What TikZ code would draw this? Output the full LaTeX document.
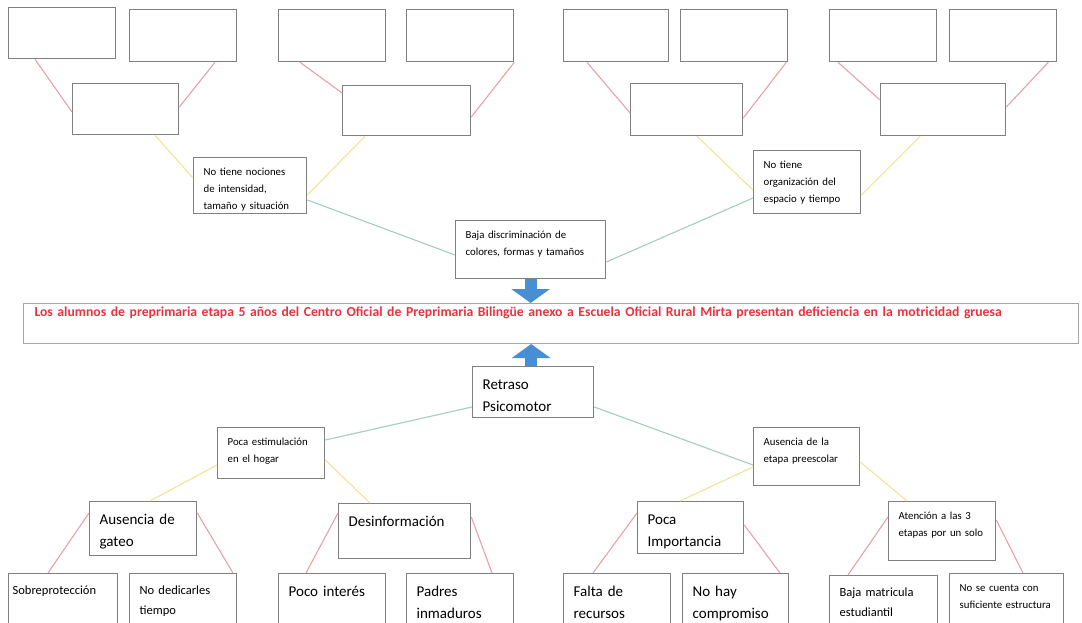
\documentclass[tikz,border=0pt]{standalone}
\usepackage{fontspec}
\setmainfont{Carlito}
\usetikzlibrary{arrows.meta}
\definecolor{boxgray}{RGB}{128,128,128}
\definecolor{linkpink}{RGB}{232,160,170}
\definecolor{linkyellow}{RGB}{240,228,150}
\definecolor{linkgreen}{RGB}{160,208,185}
\definecolor{arrowblue}{RGB}{72,142,212}
\definecolor{probred}{RGB}{232,50,62}
\tikzstyle{blank} = [rectangle, draw=boxgray, line width=1.3pt, anchor=north west, minimum width=107pt, minimum height=52pt, inner sep=0pt]
\tikzstyle{note} = [rectangle, draw=boxgray, line width=1.3pt, anchor=north west, align=left, inner xsep=10pt, inner ysep=0pt, font=\fontsize{10.8}{17}\selectfont, text height=18pt]
\tikzstyle{mednote} = [note, font=\fontsize{12.5}{20}\selectfont, text height=21pt]
\tikzstyle{bignote} = [note, font=\fontsize{15}{22}\selectfont, text height=23pt]
\tikzstyle{problem} = [rectangle, draw=black!35, line width=1pt, anchor=north west, align=left, text width=1033pt, inner xsep=11pt, inner ysep=0pt, text height=13pt, text depth=27pt, text=probred, font=\bfseries\fontsize{13.7}{15}\selectfont]
\tikzstyle{pinkline} = [draw=linkpink, line width=1.1pt]
\tikzstyle{yellowline} = [draw=linkyellow, line width=1.1pt]
\tikzstyle{greenline} = [draw=linkgreen, line width=1.1pt]
\tikzstyle{fatarrow} = [draw=arrowblue, line width=12pt, -{Triangle[width=38pt,length=14pt]}]

\begin{document}
\begin{tikzpicture}[x=1pt, y=-1pt]
\useasboundingbox (0,0) rectangle (1082,623);

% effects, still empty
\node (t1) [blank, minimum height=51pt] at (8,7) {};
\node (t2) [blank] at (129,9) {};
\node (t3) [blank] at (278,9) {};
\node (t4) [blank] at (406,9) {};
\node (t5) [blank, minimum width=105pt] at (563,9) {};
\node (t6) [blank] at (680,9) {};
\node (t7) [blank] at (829,9) {};
\node (t8) [blank] at (949,9) {};

\node (m1) [blank, minimum width=106pt, minimum height=51pt] at (72,83) {};
\node (m2) [blank, minimum width=128pt, minimum height=50pt] at (342,85) {};
\node (m3) [blank, minimum width=112pt] at (630,83) {};
\node (m4) [blank, minimum width=125pt] at (880,83) {};

\draw [pinkline] ([xshift=27pt]t1.south west) -- ([yshift=-29pt]m1.north west);
\draw [pinkline] ([xshift=86pt]t2.south west) -- ([yshift=-24pt]m1.north east);
\draw [pinkline] ([xshift=22pt]t3.south west) -- ([yshift=-8pt]m2.north west);
\draw [pinkline] (t4.south east) -- ([yshift=-32pt]m2.north east);
\draw [pinkline] ([xshift=24pt]t5.south west) -- ([yshift=-30pt]m3.north west);
\draw [pinkline] ([xshift=-2pt]t6.south east) -- ([yshift=-35pt]m3.north east);
\draw [pinkline] ([xshift=9pt]t7.south west) -- ([yshift=-17pt]m4.north west);
\draw [pinkline] ([xshift=-9pt]t8.south east) -- ([yshift=-24pt]m4.north east);

\node (noc) [note, text width=93pt, text depth=38pt] at (193,157) {No tiene nociones\\de intensidad,\\tamaño y situación};
\node (org) [note, text width=87pt, text depth=45pt] at (753,150) {No tiene\\organización del\\espacio y tiempo};

\draw [yellowline] ([xshift=83pt]m1.south west) -- ([yshift=-21pt]noc.north west);
\draw [yellowline] ([xshift=23pt]m2.south west) -- ([yshift=-38pt]noc.north east);
\draw [yellowline] ([xshift=67pt]m3.south west) -- ([yshift=-40pt]org.north west);
\draw [yellowline] ([xshift=40pt]m4.south west) -- ([yshift=-45pt]org.north east);

\node (baja) [note, text width=130pt, text depth=40pt] at (455,220) {Baja discriminación de\\colores, formas y tamaños};

\draw [greenline] ([yshift=-43pt]noc.north east) -- ([yshift=-35pt]baja.north west);
\draw [greenline] ([yshift=-42pt]baja.north east) -- ([yshift=-48pt]org.north west);

% central problem
\node (main) [problem] at (23,303) {Los alumnos de preprimaria etapa 5 años del Centro Oficial de Preprimaria Bilingüe anexo a Escuela Oficial Rural Mirta presentan deficiencia en la motricidad gruesa};

\draw [fatarrow] (baja.south) -- (baja.south |- main.north);

% causes
\node (retraso) [bignote, text width=101pt, text depth=28pt] at (472,366) {Retraso\\Psicomotor};

\draw [fatarrow] ([xshift=-2pt]retraso.north) -- ([xshift=-2pt]retraso.north |- main.south);

\node (estim) [note, text width=87pt, text depth=33pt] at (217,427) {Poca estimulación\\en el hogar};
\node (etapa) [note, text width=86pt, text depth=40pt] at (753,427) {Ausencia de la\\etapa preescolar};

\draw [greenline] ([yshift=-41pt]retraso.north west) -- ([yshift=-13pt]estim.north east);
\draw [greenline] ([yshift=-41pt]retraso.north east) -- ([yshift=-38pt]etapa.north west);

\node (gateo) [bignote, text width=87pt, text depth=31pt] at (89,501) {Ausencia de\\gateo};
\node (desinf) [bignote, text width=112pt, text depth=32pt] at (338,503) {Desinformación};
\node (pocaimp) [bignote, text width=86pt, text depth=29pt] at (637,501) {Poca\\Importancia};
\node (atencion) [note, text width=87pt, text depth=41pt] at (888,501) {Atención a las 3\\etapas por un solo};

\draw [yellowline] ([yshift=-38pt]estim.north west) -- ([xshift=61pt]gateo.north west);
\draw [yellowline] ([yshift=-33pt]estim.north east) -- ([xshift=32pt]desinf.north west);
\draw [yellowline] ([yshift=-40pt]etapa.north west) -- ([xshift=43pt]pocaimp.north west);
\draw [yellowline] ([yshift=-35pt]etapa.north east) -- ([xshift=19pt]atencion.north west);

\node (sobre) [mednote, inner xsep=4pt, text width=101pt, text depth=46pt] at (8,573) {Sobreprotección};
\node (dedicar) [mednote, text width=87pt, text depth=46pt] at (129,573) {No dedicarles\\tiempo};
\node (interes) [bignote, text width=87pt, text depth=44pt] at (278,573) {Poco interés};
\node (padres) [bignote, text width=87pt, text depth=44pt] at (406,573) {Padres\\inmaduros};
\node (falta) [bignote, text width=87pt, text depth=44pt] at (563,573) {Falta de\\recursos};
\node (nohay) [bignote, text width=86pt, text depth=44pt] at (682,573) {No hay\\compromiso};
\node (matricula) [mednote, text width=88pt, text depth=44pt] at (829,575) {Baja matricula\\estudiantil};
\node (nocuenta) [note, text width=94pt, text depth=49pt] at (949,573) {No se cuenta con\\suficiente estructura};

\draw [pinkline] ([yshift=-12pt]gateo.north west) -- ([xshift=40pt]sobre.north west);
\draw [pinkline] ([yshift=-12pt]gateo.north east) -- ([xshift=104pt]dedicar.north west);
\draw [pinkline] ([yshift=-10pt]desinf.north west) -- ([xshift=28pt]interes.north west);
\draw [pinkline] ([yshift=-14pt]desinf.north east) -- ([xshift=86pt]padres.north west);
\draw [pinkline] ([yshift=-12pt]pocaimp.north west) -- ([xshift=30pt]falta.north west);
\draw [pinkline] ([yshift=-24pt]pocaimp.north east) -- ([xshift=98pt]nohay.north west);
\draw [pinkline] ([yshift=-16pt]atencion.north west) -- ([xshift=19pt]matricula.north west);
\draw [pinkline] ([yshift=-19pt]atencion.north east) -- ([xshift=74pt]nocuenta.north west);

\end{tikzpicture}
\end{document}
